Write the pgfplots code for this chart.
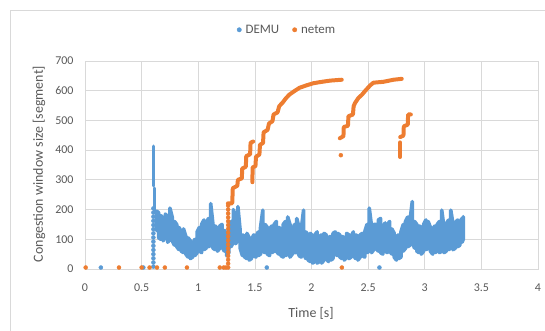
\documentclass[border=0pt]{standalone}
\usepackage{pgfplots}
\pgfplotsset{compat=1.18}
\usepackage{fontspec}
\setmainfont{Carlito}
\definecolor{demublue}{HTML}{5B9BD5}
\definecolor{netemorange}{HTML}{ED7D31}
\definecolor{gridgray}{HTML}{D9D9D9}
\definecolor{textgray}{HTML}{595959}
\pgfplotsset{dot legend/.style={legend image code/.code={\fill (0bp,0bp) circle (2.2bp);}}}
\begin{document}
\begin{tikzpicture}
\path[use as bounding box] (0bp,0bp) rectangle (545bp,331bp);
\draw[gridgray, line width=0.75bp] (10.5bp,0bp) -- (10.5bp,320.5bp) -- (545bp,320.5bp);
\begin{axis}[
  at={(85bp,62bp)}, anchor=south west, scale only axis,
  width=453bp, height=208bp,
  xmin=0, xmax=4, ymin=0, ymax=700,
  xtick={0,0.5,1,1.5,2,2.5,3,3.5,4},
  ytick={0,100,200,300,400,500,600,700},
  major tick length=0pt,
  grid=major, grid style={gridgray, line width=0.75bp},
  axis line style={gridgray, line width=0.75bp},
  tick label style={font=\fontsize{12}{14}\selectfont, text=textgray},
  /pgf/number format/assume math mode=true,
  scaled ticks=false,
  xticklabel style={yshift=-11bp},
  yticklabel style={xshift=-8bp},
  legend style={at={(axis description cs:0.446,1.15)}, anchor=center,
    draw=none, fill=none, font=\fontsize{13}{15}\selectfont, text=textgray,
    /tikz/every odd column/.append style={column sep=2bp},
    /tikz/every even column/.append style={column sep=11bp}},
  legend columns=2,
  legend cell align=left,
]
\addlegendimage{dot legend, demublue}
\addlegendentry{DEMU}
\addlegendimage{dot legend, netemorange}
\addlegendentry{netem}

% DEMU dense cloud (streaks)
\addplot[forget plot, demublue, line width=3.6bp, line join=round, line cap=round] coordinates {
(0.63,130) (0.63,195) (0.65,190) (0.65,105) (0.67,100) (0.67,180) (0.69,170) (0.69,95)
(0.71,110) (0.71,185) (0.73,175) (0.73,90) (0.75,100) (0.75,205) (0.77,175) (0.77,95)
(0.79,80) (0.79,160) (0.81,150) (0.81,75) (0.83,65) (0.83,140) (0.85,125) (0.85,60)
(0.87,55) (0.87,135) (0.89,110) (0.89,50) (0.91,40) (0.91,105) (0.93,95) (0.93,35)
(0.95,40) (0.95,85) (0.97,100) (0.97,45) (0.99,55) (0.99,125) (1.01,140) (1.01,60)
(1.03,55) (1.03,150) (1.05,165) (1.05,65) (1.07,70) (1.07,155) (1.09,170) (1.09,75)
(1.11,80) (1.11,220) (1.13,150) (1.13,70) (1.15,65) (1.15,145) (1.17,135) (1.17,60)
(1.19,70) (1.19,145) (1.21,150) (1.21,75) (1.23,60) (1.23,130) (1.25,120) (1.25,45)
(1.27,55) (1.27,135) (1.29,160) (1.29,75) (1.31,90) (1.31,200) (1.33,175) (1.33,85)
(1.35,100) (1.35,210) (1.37,130) (1.37,70) (1.39,45) (1.39,115) (1.41,110) (1.41,40)
(1.43,35) (1.43,120) (1.45,105) (1.45,30) (1.47,35) (1.47,100) (1.49,115) (1.49,45)
(1.51,40) (1.51,110) (1.53,125) (1.53,45) (1.55,50) (1.55,140) (1.57,198) (1.57,60)
(1.59,55) (1.59,150) (1.61,140) (1.61,50) (1.63,45) (1.63,135) (1.65,145) (1.65,55)
(1.67,60) (1.67,150) (1.69,160) (1.69,60) (1.71,50) (1.71,140) (1.73,135) (1.73,45)
(1.75,40) (1.75,150) (1.77,160) (1.77,45) (1.79,50) (1.79,175) (1.81,150) (1.81,40)
(1.83,50) (1.83,130) (1.85,150) (1.85,55) (1.87,55) (1.87,170) (1.89,140) (1.89,45)
(1.91,40) (1.91,135) (1.93,198) (1.93,50) (1.95,35) (1.95,125) (1.97,115) (1.97,30)
(1.99,25) (1.99,120) (2.01,110) (2.01,20) (2.03,25) (2.03,115) (2.05,125) (2.05,20)
(2.07,25) (2.07,110) (2.09,115) (2.09,20) (2.11,30) (2.11,120) (2.13,115) (2.13,35)
(2.15,25) (2.15,105) (2.17,110) (2.17,30) (2.19,35) (2.19,120) (2.21,125) (2.21,50)
(2.23,45) (2.23,120) (2.25,115) (2.25,40) (2.27,35) (2.27,110) (2.29,105) (2.29,30)
(2.31,40) (2.31,120) (2.33,115) (2.33,35) (2.35,40) (2.35,110) (2.37,125) (2.37,45)
(2.39,35) (2.39,115) (2.41,110) (2.41,30) (2.43,40) (2.43,115) (2.45,120) (2.45,45)
(2.47,40) (2.47,125) (2.49,150) (2.49,55) (2.51,60) (2.51,205) (2.53,145) (2.53,55)
(2.55,65) (2.55,150) (2.57,150) (2.57,70) (2.59,60) (2.59,165) (2.61,170) (2.61,55)
(2.63,50) (2.63,140) (2.65,155) (2.65,60) (2.67,55) (2.67,150) (2.69,160) (2.69,60)
(2.71,50) (2.71,135) (2.73,120) (2.73,40) (2.75,30) (2.75,110) (2.77,115) (2.77,35)
(2.79,40) (2.79,125) (2.81,150) (2.81,60) (2.83,70) (2.83,160) (2.85,175) (2.85,75)
(2.87,80) (2.87,165) (2.89,227) (2.89,90) (2.91,70) (2.91,160) (2.93,150) (2.93,60)
(2.95,55) (2.95,145) (2.97,140) (2.97,50) (2.99,60) (2.99,150) (3.01,165) (3.01,65)
(3.03,70) (3.03,160) (3.05,140) (3.05,60) (3.07,50) (3.07,135) (3.09,145) (3.09,55)
(3.11,60) (3.11,150) (3.13,160) (3.13,55) (3.15,60) (3.15,198) (3.17,140) (3.17,55)
(3.19,60) (3.19,150) (3.21,165) (3.21,65) (3.23,70) (3.23,198) (3.25,150) (3.25,65)
(3.27,70) (3.27,155) (3.29,165) (3.29,75) (3.31,80) (3.31,160) (3.33,170) (3.33,90)
(3.34,100) (3.34,176)
};
\addplot[forget plot, demublue, line width=3.6bp, line cap=round] coordinates {(0.604,280) (0.604,413)};
\addplot[forget plot, demublue, line width=3.6bp, line cap=round] coordinates {(0.614,192) (0.614,272)};
\addplot[forget plot, only marks, mark=*, mark size=2bp, demublue] coordinates {
(0.604,8) (0.604,22) (0.604,36) (0.604,50) (0.604,64) (0.604,78) (0.604,92) (0.604,106)
(0.604,120) (0.604,134) (0.604,148) (0.604,162) (0.604,176) (0.604,190) (0.604,204)
(0.14,5) (0.515,5) (1.605,5) (2.60,5)
};

% netem
\addplot[forget plot, netemorange, line width=4bp, line join=round, line cap=round] coordinates {
(1.262,221) (1.300,221) (1.305,272) (1.345,280) (1.350,300) (1.385,305) (1.388,338) (1.420,344)
(1.424,380) (1.458,386) (1.462,425) (1.485,429)
};
\addplot[forget plot, netemorange, line width=4bp, line join=round, line cap=round] coordinates {
(1.478,292) (1.480,342) (1.505,346) (1.510,378) (1.540,385) (1.545,418) (1.572,424) (1.577,460)
(1.612,468) (1.625,490) (1.655,497) (1.665,520) (1.700,527) (1.715,548) (1.745,560) (1.775,575)
(1.805,587) (1.850,599) (1.895,610) (1.955,618) (2.015,625) (2.075,629) (2.165,634) (2.267,637)
};
\addplot[forget plot, netemorange, line width=4bp, line join=round, line cap=round] coordinates {
(2.250,440) (2.282,447) (2.285,478) (2.322,482) (2.326,514) (2.366,520) (2.372,548) (2.385,559)
(2.415,576) (2.444,586) (2.473,599) (2.518,618) (2.547,627) (2.635,630) (2.725,637) (2.797,640)
};
\addplot[forget plot, netemorange, line width=4bp, line join=round, line cap=round] coordinates {
(2.783,444) (2.812,449) (2.815,480) (2.850,486) (2.853,520) (2.877,520)
};
\addplot[forget plot, netemorange, line width=4bp, line cap=round] coordinates {(2.783,377) (2.783,426)};
\addplot[forget plot, only marks, mark=*, mark size=2bp, netemorange] coordinates {
(1.264,5) (1.264,18) (1.264,31) (1.264,44) (1.264,57) (1.264,70) (1.264,83) (1.264,96)
(1.264,109) (1.264,122) (1.264,135) (1.264,148) (1.264,161) (1.264,174) (1.264,187) (1.264,200)
(1.264,213)
(0.006,5) (0.30,5) (0.50,5) (0.57,5) (0.636,5) (0.705,5) (0.90,5) (1.19,5) (1.225,5) (1.245,5)
(2.268,5) (2.259,383)
};
\end{axis}
\node[font=\fontsize{14}{16}\selectfont, text=textgray] at (311bp,18bp) {Time [s]};
\node[rotate=90, font=\fontsize{14}{16}\selectfont, text=textgray] at (39bp,167bp) {Congestion window size [segment]};
\end{tikzpicture}
\end{document}
